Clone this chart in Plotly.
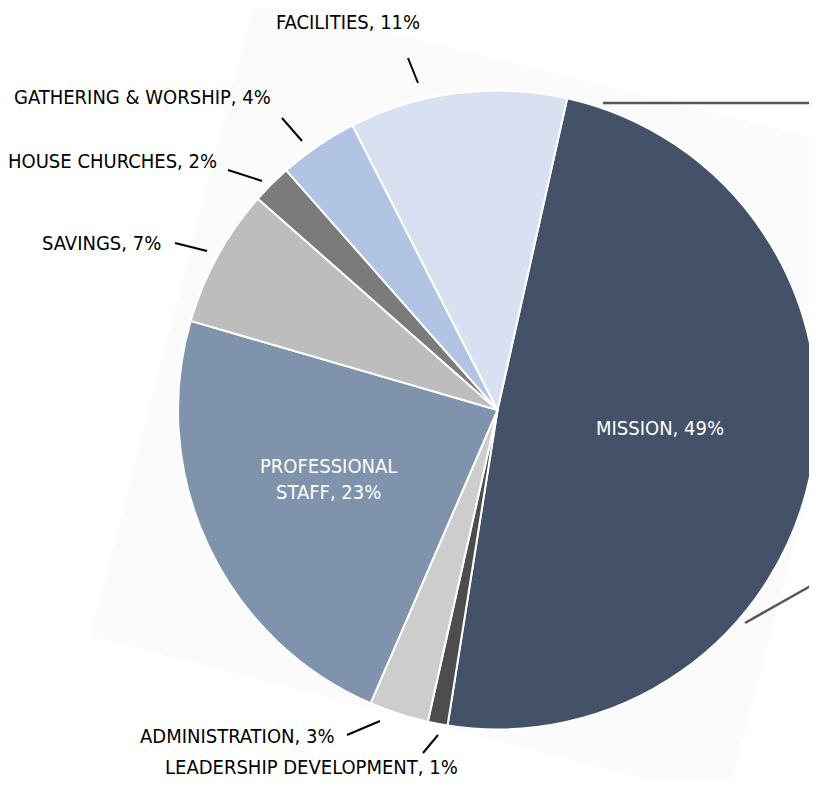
import plotly.graph_objects as go

# ---- data ----
categories = ["MISSION", "LEADERSHIP DEVELOPMENT", "ADMINISTRATION", "PROFESSIONAL STAFF",
              "SAVINGS", "HOUSE CHURCHES", "GATHERING & WORSHIP", "FACILITIES"]
percentages = [49, 1, 3, 23, 7, 2, 4, 11]
slice_colors = ["#435269", "#4d4d4d", "#cdcdcd", "#7f93ad",
                "#bdbdbd", "#7b7b7b", "#b1c4e4", "#d7e1f1"]

# page body has an 8px default margin; size the figure so the page does not scroll
OFF = 8
W, H = 817 - OFF, 789 - 2 * OFF
FONT = "DejaVu Sans Condensed, Liberation Sans Narrow, Roboto, sans-serif"
FS = 20


def px(x):
    return (x - OFF) / W


def py(y):
    return 1 - (y - OFF) / H


fig = go.Figure()
fig.add_trace(go.Pie(
    labels=categories,
    values=percentages,
    sort=False,
    direction="clockwise",
    rotation=12.6,
    marker=dict(colors=slice_colors, line=dict(color="white", width=2)),
    textinfo="none",
    hoverinfo="label+percent",
    showlegend=False,
    domain=dict(x=[px(178), 1.0], y=[py(730), py(90)]),
))

lab = {c: f"{c}, {v}%" for c, v in zip(categories, percentages)}

# label placement: (category, x, y, xanchor, color)
placements = [
    ("FACILITIES", 348, 22, "center", "black"),
    ("GATHERING & WORSHIP", 273, 97, "right", "black"),
    ("HOUSE CHURCHES", 219, 161, "right", "black"),
    ("SAVINGS", 163, 243, "right", "black"),
    ("ADMINISTRATION", 336, 736, "right", "black"),
    ("LEADERSHIP DEVELOPMENT", 311, 767, "center", "black"),
    ("MISSION", 660, 428, "center", "white"),
]
annotations = []
for cat, x, y, xa, col in placements:
    annotations.append(dict(
        x=px(x), y=py(y), xref="paper", yref="paper", text=lab[cat],
        showarrow=False, xanchor=xa, yanchor="middle",
        font=dict(family=FONT, size=FS, color=col)))
annotations.append(dict(
    x=px(328), y=py(479), xref="paper", yref="paper",
    text="PROFESSIONAL<br>STAFF, " + str(percentages[3]) + "%",
    showarrow=False, xanchor="center", yanchor="middle",
    font=dict(family=FONT, size=FS, color="white")))

shapes = []
# faint rotated backdrop
corners = [(255, -1), (897, 158), (727, 800), (90, 636)]
path = "M " + " L ".join(f"{px(a)},{py(b)}" for a, b in corners) + " Z"
shapes.append(dict(type="path", path=path, xref="paper", yref="paper",
                   fillcolor="#fbfbfb", line=dict(width=0), layer="below"))

leaders = [
    ((408, 58), (418, 83)),
    ((282, 118), (302, 141)),
    ((228, 170), (262, 181)),
    ((175, 243), (207, 251)),
    ((347, 735), (380, 721)),
    ((423, 753), (438, 735)),
]
for (x0, y0), (x1, y1) in leaders:
    shapes.append(dict(type="line", xref="paper", yref="paper",
                       x0=px(x0), y0=py(y0), x1=px(x1), y1=py(y1),
                       line=dict(color="black", width=2)))
for (x0, y0), (x1, y1) in [((603, 103), (830, 103)), ((745, 623), (830, 575))]:
    shapes.append(dict(type="line", xref="paper", yref="paper",
                       x0=px(x0), y0=py(y0), x1=px(x1), y1=py(y1),
                       line=dict(color="#555555", width=2.5)))

fig.update_layout(
    width=W, height=H,
    margin=dict(l=0, r=0, t=0, b=0),
    paper_bgcolor="white", plot_bgcolor="white",
    annotations=annotations, shapes=shapes,
)

fig.write_html("out.html")
